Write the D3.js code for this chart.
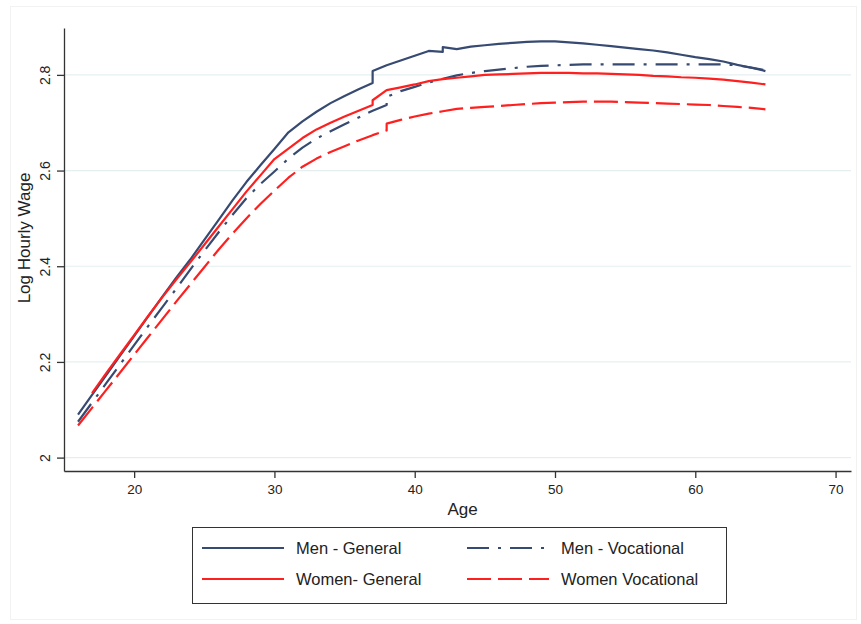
<!DOCTYPE html>
<html>
<head>
<meta charset="utf-8">
<script src="https://cdn.jsdelivr.net/npm/d3@7"></script>
<style>
  body { margin: 0; background: #fff; }
  svg { display: block; font-family: "Liberation Sans", Arial, sans-serif; }
</style>
</head>
<body>
<svg id="chart" width="861" height="624"></svg>
<script>
// log hourly wage by age, four groups
var agesMG = [16,17,18,19,20,21,22,23,24,25,26,27,28,29,30,31,32,33,34,35,36,37,37,38,39,40,41,42,42,43,44,45,46,47,48,49,50,51,52,53,54,55,56,57,58,59,60,61,62,63,64,65];
var wageMG = [2.090,2.131,2.172,2.213,2.254,2.295,2.336,2.376,2.414,2.455,2.496,2.537,2.576,2.611,2.645,2.680,2.703,2.723,2.741,2.756,2.770,2.783,2.808,2.820,2.830,2.840,2.850,2.848,2.858,2.854,2.859,2.862,2.865,2.867,2.869,2.870,2.870,2.868,2.866,2.863,2.860,2.857,2.854,2.851,2.847,2.842,2.837,2.833,2.828,2.821,2.815,2.808];

var agesMV = [16,17,18,19,20,21,22,23,24,25,26,27,28,29,30,31,32,33,34,35,36,37,38,38,39,40,41,42,43,44,45,46,47,48,49,50,51,52,53,54,55,56,57,58,59,60,61,62,63,64,65];
var wageMV = [2.075,2.115,2.155,2.195,2.235,2.275,2.314,2.353,2.393,2.432,2.470,2.507,2.542,2.572,2.598,2.625,2.648,2.667,2.682,2.697,2.711,2.725,2.737,2.754,2.766,2.775,2.784,2.792,2.799,2.804,2.808,2.811,2.814,2.817,2.819,2.820,2.821,2.822,2.822,2.822,2.822,2.822,2.822,2.822,2.822,2.822,2.822,2.822,2.820,2.815,2.810];

var agesWG = [17,18,19,20,21,22,23,24,25,26,27,28,29,30,31,32,33,34,35,36,37,37,38,39,40,41,42,43,44,45,46,47,48,49,50,51,52,53,54,55,56,57,58,59,60,61,62,63,64,65];
var wageWG = [2.135,2.176,2.216,2.256,2.296,2.335,2.372,2.408,2.445,2.482,2.519,2.556,2.590,2.624,2.646,2.668,2.686,2.700,2.713,2.725,2.737,2.747,2.768,2.774,2.780,2.787,2.791,2.794,2.797,2.800,2.801,2.802,2.803,2.804,2.804,2.804,2.803,2.803,2.802,2.801,2.800,2.798,2.797,2.795,2.794,2.792,2.790,2.787,2.784,2.780];

var agesWV = [16,17,18,19,20,21,22,23,24,25,26,27,28,29,30,31,32,33,34,35,36,37,38,38,39,40,41,42,43,44,45,46,47,48,49,50,51,52,53,54,55,56,57,58,59,60,61,62,63,64,65];
var wageWV = [2.067,2.104,2.141,2.178,2.215,2.252,2.289,2.326,2.362,2.398,2.434,2.468,2.500,2.530,2.558,2.585,2.608,2.625,2.639,2.651,2.663,2.674,2.684,2.698,2.706,2.713,2.719,2.724,2.729,2.731,2.733,2.735,2.737,2.739,2.741,2.742,2.743,2.744,2.744,2.744,2.743,2.742,2.741,2.740,2.739,2.738,2.737,2.735,2.733,2.731,2.728];

var xTicks = [20, 30, 40, 50, 60, 70];
var yTicks = [2, 2.2, 2.4, 2.6, 2.8];
var yTickLabels = ["2", "2.2", "2.4", "2.6", "2.8"];

var seriesNames = ["Men - General", "Men - Vocational", "Women- General", "Women Vocational"];

var navy = "#374a72", red = "#ff1f1f";
var series = [
  {name: seriesNames[0], ages: agesMG, wage: wageMG, color: navy, dash: null},
  {name: seriesNames[1], ages: agesMV, wage: wageMV, color: navy, dash: "22,9,3,9"},
  {name: seriesNames[2], ages: agesWG, wage: wageWG, color: red, dash: null},
  {name: seriesNames[3], ages: agesWV, wage: wageWV, color: red, dash: "24,7"}
];

var svg = d3.select("#chart"),
    plotL = 64, plotR = 851, plotT = 28, plotB = 471;

// faint outer frame
svg.append("rect")
    .attr("x", 10.5).attr("y", 6.5)
    .attr("width", 846).attr("height", 613)
    .attr("fill", "none").attr("stroke", "#f1f3f3");

var x = d3.scaleLinear().domain([15, 71.1]).range([plotL, plotR]);
var y = d3.scaleLinear().domain([1.972, 2.898]).range([plotB, plotT]);

// grid
svg.append("g").selectAll("line")
    .data(yTicks)
  .enter().append("line")
    .attr("x1", plotL).attr("x2", plotR)
    .attr("y1", function(d) { return y(d); })
    .attr("y2", function(d) { return y(d); })
    .attr("stroke", "#e6eff0").attr("stroke-width", 1.2);

// axes
var yAxis = svg.append("g")
    .attr("transform", "translate(" + plotL + ",0)")
    .call(d3.axisLeft(y).tickValues(yTicks).tickSize(7).tickSizeOuter(0)
      .tickFormat(function(d, i) { return yTickLabels[i]; }));
yAxis.selectAll("text")
    .attr("transform", "rotate(-90)")
    .attr("x", 0)
    .attr("y", -14)
    .attr("dy", null)
    .attr("text-anchor", "middle")
    .attr("font-size", 14)
    .attr("fill", "#222");

var xAxis = svg.append("g")
    .attr("transform", "translate(0," + plotB + ")")
    .call(d3.axisBottom(x).tickValues(xTicks).tickSize(7).tickSizeOuter(0));
xAxis.selectAll("text")
    .attr("y", 13)
    .attr("dy", "0.71em")
    .attr("font-size", 13.5)
    .attr("fill", "#222")
    .attr("font-family", "'Liberation Sans Narrow', 'Liberation Sans', sans-serif");

svg.selectAll(".domain, .tick line").attr("stroke", "#333").attr("stroke-width", 1.3);

// axis titles
svg.append("text")
    .attr("x", (plotL + plotR) / 2 + 5).attr("y", 515)
    .attr("text-anchor", "middle")
    .attr("font-size", 17).attr("fill", "#222")
    .text("Age");

svg.append("text")
    .attr("transform", "translate(30,238) rotate(-90)")
    .attr("text-anchor", "middle")
    .attr("font-size", 17).attr("fill", "#222")
    .text("Log Hourly Wage");

// lines
var line = d3.line()
    .x(function(d) { return x(d[0]); })
    .y(function(d) { return y(d[1]); });

series.forEach(function(s) {
  svg.append("path")
      .datum(d3.zip(s.ages, s.wage))
      .attr("d", line)
      .attr("fill", "none")
      .attr("stroke", s.color)
      .attr("stroke-width", 2.2)
      .attr("stroke-linejoin", "round")
      .attr("stroke-dasharray", s.dash);
});

// legend
var legend = svg.append("g");
legend.append("rect")
    .attr("x", 192.5).attr("y", 527.5)
    .attr("width", 534).attr("height", 76)
    .attr("fill", "#fff").attr("stroke", "#333").attr("stroke-width", 1);

var legendPos = [[202, 548], [467, 548], [202, 579], [467, 579]];
series.forEach(function(s, i) {
  var p = legendPos[i];
  legend.append("line")
      .attr("x1", p[0]).attr("x2", p[0] + 82)
      .attr("y1", p[1]).attr("y2", p[1])
      .attr("stroke", s.color).attr("stroke-width", 2.2)
      .attr("stroke-dasharray", s.dash);
  legend.append("text")
      .attr("x", p[0] + 94).attr("y", p[1])
      .attr("dy", "0.35em")
      .attr("font-size", 16.5).attr("fill", "#222")
      .text(s.name);
});
</script>
</body>
</html>
